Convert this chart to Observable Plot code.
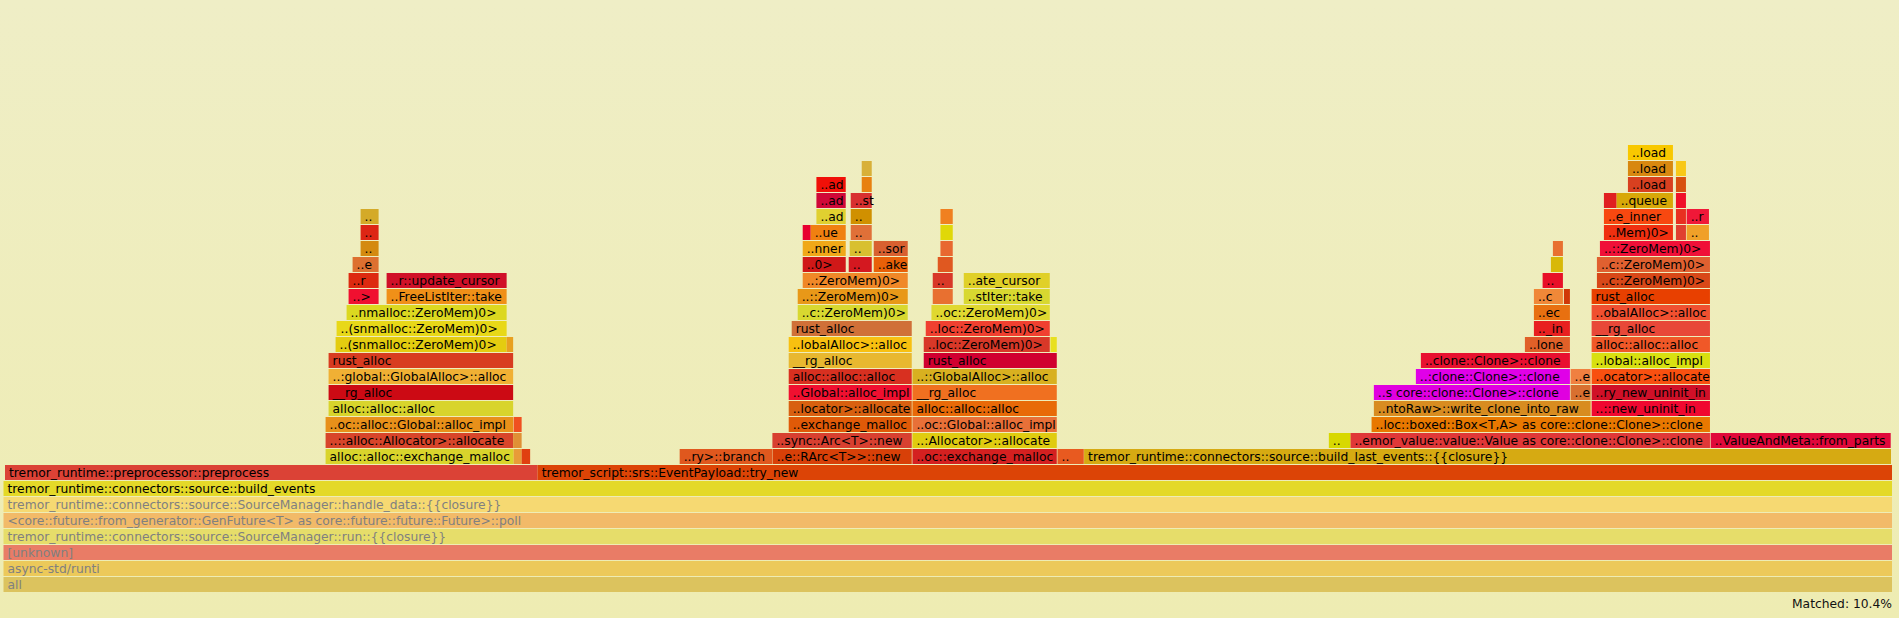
<!DOCTYPE html>
<html>
<head>
<meta charset="utf-8">
<script src="https://cdn.jsdelivr.net/npm/d3@7"></script>
<script src="https://cdn.jsdelivr.net/npm/@observablehq/plot@0.6"></script>
<style>
  html, body { margin: 0; padding: 0; }
  body {
    width: 1899px; height: 618px; overflow: hidden;
    background: linear-gradient(#efeec6, #eeecb2);
    font-family: "DejaVu Sans", Verdana, sans-serif;
  }
  #chart svg { display: block; }
  #matched { height: 22px; line-height: 16px; font-size: 12.3px; text-align: right; padding-right: 7px; color: #111; }
</style>
</head>
<body>
<div id="chart"></div>
<div id="matched">Matched: 10.4%</div>
<script>
// Flame graph frames: [label, stack depth, first sample, last sample]
const totalSamples = 1888;

const baseFrames = [
  ["all", 0, 0, 1888],
  ["async-std/runti", 1, 0, 1888],
  ["[unknown]", 2, 0, 1888],
  ["tremor_runtime::connectors::source::SourceManager::run::{{closure}}", 3, 0, 1888],
  ["<core::future::from_generator::GenFuture<T> as core::future::future::Future>::poll", 4, 0, 1888],
  ["tremor_runtime::connectors::source::SourceManager::handle_data::{{closure}}", 5, 0, 1888],
  ["tremor_runtime::connectors::source::build_events", 6, 0, 1888],
  ["tremor_runtime::preprocessor::preprocess", 7, 1.5, 534],
  ["tremor_script::srs::EventPayload::try_new", 7, 534, 1888]
];
const baseColors = ["#dcc35e", "#ecc95a", "#e97c66", "#e6dd6a", "#f2ba68", "#f6d972", "#e4d928", "#db4236", "#dc4406"];

const leftTower = [
  ["alloc::alloc::exchange_malloc", 8, 322, 510],
  ["", 8, 510, 518],
  ["", 8, 518, 526.5],
  ["..::alloc::Allocator>::allocate", 9, 322, 509.5],
  ["", 9, 509.5, 518],
  ["..oc::alloc::Global::alloc_impl", 10, 322, 509.5],
  ["", 10, 510, 518],
  ["alloc::alloc::alloc", 11, 325, 509.5],
  ["__rg_alloc", 12, 325, 509.5],
  ["..:global::GlobalAlloc>::alloc", 13, 325, 509.5],
  ["rust_alloc", 14, 325, 509.5],
  ["..(snmalloc::ZeroMem)0>", 15, 332, 503],
  ["", 15, 503, 509.5],
  ["..(snmalloc::ZeroMem)0>", 16, 333, 503],
  ["..nmalloc::ZeroMem)0>", 17, 343, 503],
  ["..>", 18, 345, 375],
  ["..FreeListIter::take", 18, 383, 503],
  ["..r", 19, 345, 375],
  ["..r::update_cursor", 19, 383, 503],
  ["..e", 20, 349, 375],
  ["..", 21, 357, 375],
  ["..", 22, 357, 375],
  ["..", 23, 357, 375]
];
const leftColors = ["#d9d42c", "#e89c38", "#e04010", "#d8452a", "#e09035", "#e8901a", "#f05020",
  "#d8d42c", "#cc0a14", "#f0b034", "#d83c20", "#e4cc10", "#e8a020", "#e8d818", "#dcd820",
  "#f01030", "#f09018", "#dd2a10", "#d01028", "#dd7030", "#d48a10", "#dd2515", "#d4aa28"];

const midTower = [
  ["..ry>::branch", 8, 676, 768.7],
  ["..e::RArc<T>>::new", 8, 769, 908],
  ["..oc::exchange_malloc", 8, 908.7, 1053],
  ["..", 8, 1053.7, 1080],
  ["..sync::Arc<T>::new", 9, 768.7, 908],
  ["..:Allocator>::allocate", 9, 908.7, 1053],
  ["..exchange_malloc", 10, 785, 908],
  ["..oc::Global::alloc_impl", 10, 908.7, 1053],
  ["..locator>::allocate", 11, 785, 908],
  ["alloc::alloc::alloc", 11, 908.7, 1053],
  ["..Global::alloc_impl", 12, 785, 908],
  ["__rg_alloc", 12, 908.7, 1053],
  ["alloc::alloc::alloc", 13, 785, 908],
  ["..::GlobalAlloc>::alloc", 13, 908.7, 1053],
  ["__rg_alloc", 14, 785, 908],
  ["rust_alloc", 14, 920, 1053],
  ["..lobalAlloc>::alloc", 15, 785, 908],
  ["..loc::ZeroMem)0>", 15, 920, 1046],
  ["", 15, 1046.7, 1053],
  ["rust_alloc", 16, 788, 908],
  ["..loc::ZeroMem)0>", 16, 922, 1046],
  ["..c::ZeroMem)0>", 17, 794, 904],
  ["..oc::ZeroMem)0>", 17, 927.7, 1046],
  ["..::ZeroMem)0>", 18, 794, 904],
  ["", 18, 929, 949],
  ["..stIter::take", 18, 960, 1046],
  ["..:ZeroMem)0>", 19, 799, 904],
  ["..", 19, 929, 949],
  ["..ate_cursor", 19, 960, 1046],
  ["..0>", 20, 799, 842],
  ["..", 20, 845, 868],
  ["..ake", 20, 870, 904],
  ["", 20, 934, 949],
  ["..nner", 21, 799, 842],
  ["..", 21, 846, 868],
  ["..sor", 21, 870, 904],
  ["", 21, 936.7, 949],
  ["", 22, 799, 807],
  ["..ue", 22, 807, 842],
  ["..", 22, 847, 868],
  ["", 22, 936.7, 949],
  ["..ad", 23, 812.7, 842],
  ["..", 23, 847, 868],
  ["", 23, 936.7, 949],
  ["..ad", 24, 812.7, 842],
  ["..st", 24, 847, 868],
  ["..ad", 25, 812.7, 842],
  ["", 25, 858, 868],
  ["", 26, 858, 868]
];
const midColors = ["#e0581e", "#d84008", "#d42020", "#e85a20",
  "#d84030", "#e0cc10",
  "#e05a08", "#e87038",
  "#d86010", "#e86a08",
  "#f01030", "#f07020",
  "#d83020", "#d8b020",
  "#e8b830", "#d00030",
  "#f8c010", "#d83828", "#e8e020",
  "#d07038", "#f04030",
  "#d8d830", "#e0d830",
  "#e89818", "#e87030", "#d8d830",
  "#f08828", "#d83828", "#e0d028",
  "#d01818", "#d41820", "#e86008", "#e05820",
  "#f0a818", "#d8c030", "#d86030", "#e86830",
  "#e80030", "#f08010", "#e07038", "#e0d808",
  "#e0d030", "#d09000", "#f08020",
  "#d00838", "#d83030",
  "#f01008", "#e88010",
  "#d8b038"];

const rightTower = [
  ["tremor_runtime::connectors::source::build_last_events::{{closure}}", 8, 1080.3, 1887],
  ["..", 9, 1325, 1346.7],
  ["..emor_value::value::Value as core::clone::Clone>::clone", 9, 1346.7, 1706],
  ["..ValueAndMeta::from_parts", 9, 1706.7, 1886.7],
  ["..loc::boxed::Box<T,A> as core::clone::Clone>::clone", 10, 1367.7, 1706],
  ["..ntoRaw>::write_clone_into_raw", 11, 1370, 1586.7],
  ["..::new_uninit_in", 11, 1587.7, 1706],
  ["..s core::clone::Clone>::clone", 12, 1370, 1566],
  ["..e", 12, 1566.7, 1586.7],
  ["..ry_new_uninit_in", 12, 1587.7, 1706],
  ["..:clone::Clone>::clone", 13, 1412, 1566],
  ["..e", 13, 1566.7, 1586.7],
  ["..ocator>::allocate", 13, 1587.7, 1706],
  ["..clone::Clone>::clone", 14, 1417, 1566],
  ["..lobal::alloc_impl", 14, 1587.7, 1706],
  ["..lone", 15, 1521, 1566],
  ["alloc::alloc::alloc", 15, 1587.7, 1706],
  [".._in", 16, 1530, 1566],
  ["__rg_alloc", 16, 1587.7, 1706],
  ["..ec", 17, 1530, 1566],
  ["..obalAlloc>::alloc", 17, 1587.7, 1706],
  ["..c", 18, 1530, 1559],
  ["", 18, 1560, 1566],
  ["rust_alloc", 18, 1587.7, 1706],
  ["..", 19, 1538.7, 1559],
  ["..c::ZeroMem)0>", 19, 1593, 1706],
  ["", 20, 1547, 1559],
  ["..c::ZeroMem)0>", 20, 1593, 1706],
  ["", 21, 1549, 1559],
  ["..::ZeroMem)0>", 21, 1596, 1706],
  ["..Mem)0>", 22, 1600, 1669],
  ["", 22, 1672, 1682],
  ["..", 22, 1682.7, 1705],
  ["..e_inner", 23, 1600, 1669],
  ["", 23, 1672, 1682],
  ["..r", 23, 1682.7, 1705],
  ["", 24, 1600, 1612.7],
  ["..queue", 24, 1612.7, 1669],
  ["", 24, 1672, 1682],
  ["..load", 25, 1624, 1669],
  ["", 25, 1672, 1682],
  ["..load", 26, 1624, 1669],
  ["", 26, 1672, 1682],
  ["..load", 27, 1624, 1669]
];
const rightColors = ["#d6aa12",
  "#d8d800", "#e03838", "#e0083a",
  "#e87800",
  "#d88c20", "#f00830",
  "#e000e0", "#d87030", "#d01028",
  "#e000e8", "#f08040", "#f85010",
  "#e81030", "#d8e010",
  "#e06028", "#f05828",
  "#e82020", "#e84838",
  "#e87010", "#f05030",
  "#f08838", "#d03808", "#e84000",
  "#e81028", "#d84818",
  "#d8b808", "#e06030",
  "#e87030", "#f01038",
  "#f03010", "#e04030", "#f0a028",
  "#f84810", "#e83020", "#f01838",
  "#e02020", "#d8a808", "#f01028",
  "#d84020", "#d85010",
  "#d88810", "#f8c818",
  "#f8c800"];

const dimmedDepth = 5; // frames at or below this depth have grey labels

function build(list, colors) {
  return list.map(([name, level, x1, x2], i) => ({name, level, x1, x2, color: colors[i]}));
}
const frames = [
  ...build(baseFrames, baseColors),
  ...build(leftTower, leftColors),
  ...build(midTower, midColors),
  ...build(rightTower, rightColors)
];
const labelled = frames.filter(d => d.name !== "");

const chart = Plot.plot({
  width: 1899,
  height: 596,
  marginLeft: 3.5,
  marginRight: 7,
  marginTop: 145,
  marginBottom: 3,
  x: {domain: [0, totalSamples], axis: null},
  y: {domain: [0, 28], axis: null},
  color: {type: "identity"},
  style: {fontFamily: "'DejaVu Sans', Verdana, sans-serif", fontSize: "12.3px", background: "transparent", overflow: "visible"},
  marks: [
    Plot.rect(frames, {x1: "x1", x2: "x2", y1: "level", y2: d => d.level + 1, fill: "color", insetBottom: 1}),
    Plot.text(labelled, {
      x: "x1", y: d => d.level + 0.5, text: "name",
      textAnchor: "start", dx: 3.5, dy: -0.5, fontSize: 12.3,
      fill: d => d.level <= dimmedDepth ? "#808080" : "#000000"
    })
  ]
});
document.getElementById("chart").appendChild(chart);
</script>
</body>
</html>
